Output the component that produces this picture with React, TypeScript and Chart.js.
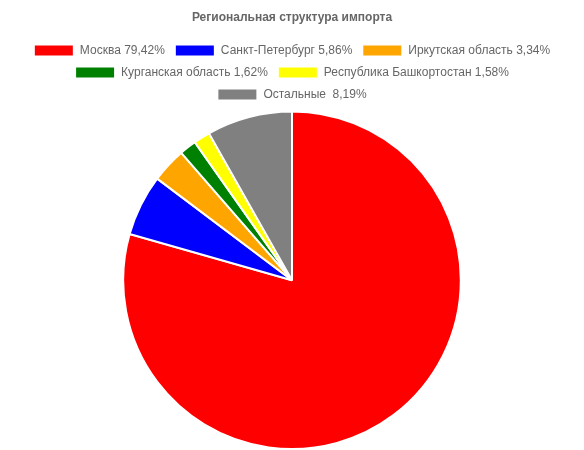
import React, { useEffect, useRef } from "react";
import { Chart, registerables } from "chart.js";

Chart.register(...registerables);

const labels = [
  "Москва 79,42%",
  "Санкт-Петербург 5,86%",
  "Иркутская область 3,34%",
  "Курганская область 1,62%",
  "Республика Башкортостан 1,58%",
  "Остальные  8,19%",
];
const values = [79.42, 5.86, 3.34, 1.62, 1.58, 8.19];
const colors = ["#ff0000", "#0000ff", "#ffa500", "#008000", "#ffff00", "#808080"];
const title = "Региональная структура импорта";

export default function App() {
  const ref = useRef<HTMLCanvasElement | null>(null);
  useEffect(() => {
    document.body.style.margin = "0";
    Chart.defaults.font.family = "'Liberation Sans', Arial, sans-serif";
    Chart.defaults.font.size = 12;
    Chart.defaults.color = "#666";
    const chart = new Chart(ref.current!, {
      type: "pie",
      data: {
        labels,
        datasets: [
          {
            data: values,
            backgroundColor: colors,
            borderColor: "#fff",
            borderWidth: 2,
          },
        ],
      },
      options: {
        animation: false,
        responsive: false,
        plugins: {
          title: {
            display: true,
            text: title,
            font: { size: 12, weight: "bold" },
            color: "#666",
            padding: 10,
          },
          legend: {
            position: "top",
            labels: { boxWidth: 40, boxHeight: 12, padding: 10, color: "#666" },
          },
          tooltip: { enabled: false },
        },
      },
    });
    return () => chart.destroy();
  }, []);
  return (
    <div style={{ width: 584, height: 450 }}>
      <canvas ref={ref} width={584} height={450} style={{ display: "block" }} />
    </div>
  );
}
